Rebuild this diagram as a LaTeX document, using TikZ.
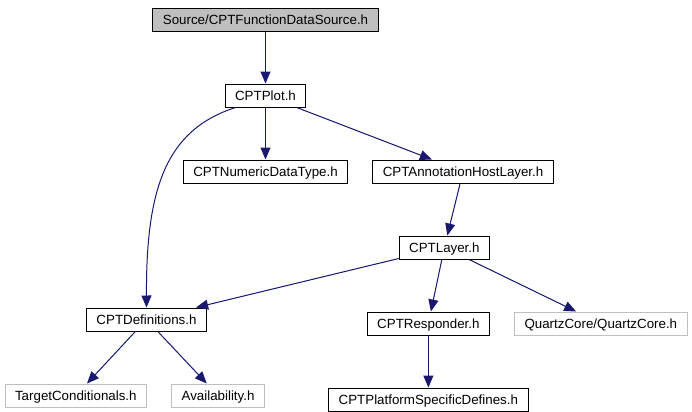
\documentclass[tikz,border=0pt]{standalone}
\usepackage{fontspec}
\setmainfont{Liberation Sans}
\usetikzlibrary{arrows.meta,positioning}
\definecolor{depblue}{HTML}{191970}
\definecolor{sysgray}{HTML}{BFBFBF}

\begin{document}
\begin{tikzpicture}[x=0.75pt, y=-0.75pt, node distance=39pt,
        file/.style={rectangle, draw, line width=0.75pt, minimum height=17.25pt, inner xsep=7.5pt, inner ysep=0pt, text height=7.2pt, text depth=0pt, font=\fontsize{10pt}{12pt}\selectfont},
        sysfile/.style={file, draw=sysgray},
        dep/.style={-{Triangle[length=9pt, width=7.5pt]}, draw=depblue, fill=depblue, line width=0.75pt}]

        \useasboundingbox (0,0) rectangle (692,411);

        \node[file, fill=sysgray] (src) at (265.5,19.5) {Source/CPTFunctionDataSource.h};
        \node[file, below=39pt of src] (plot) {CPTPlot.h};
        \node[file, below=39pt of plot] (numeric) {CPTNumericDataType.h};
        \node[file, right=18pt of numeric] (annot) {CPTAnnotationHostLayer.h};
        \node[file, below=39pt of annot, xshift=-14pt] (layer) {CPTLayer.h};
        \node[file, below=39pt of layer, xshift=-12pt] (resp) {CPTResponder.h};
        \node[sysfile, right=18pt of resp] (quartz) {QuartzCore/QuartzCore.h};
        \node[file] (defs) at (146.5,319.5) {CPTDefinitions.h};
        \node[sysfile, below=39pt of defs, xshift=-53pt] (target) {TargetConditionals.h};
        \node[sysfile, right=18pt of target] (avail) {Availability.h};
        \node[file, below=39pt of resp] (platform) {CPTPlatformSpecificDefines.h};

        \draw[dep] (src) -- (plot);
        \draw[dep] (plot) -- (numeric);
        \draw[dep] (plot) -- (annot);
        \draw[dep, fill=none] ([xshift=8.25pt]plot.south west) .. controls (165,130) and (146,190) .. (defs.north);
        \draw[dep] (annot) -- (layer);
        \draw[dep] (layer) -- (defs);
        \draw[dep] (layer) -- (resp);
        \draw[dep] (layer) -- (quartz);
        \draw[dep] (resp) -- (platform);
        \draw[dep] (defs) -- (target);
        \draw[dep] (defs) -- (avail);

    \end{tikzpicture}
\end{document}
